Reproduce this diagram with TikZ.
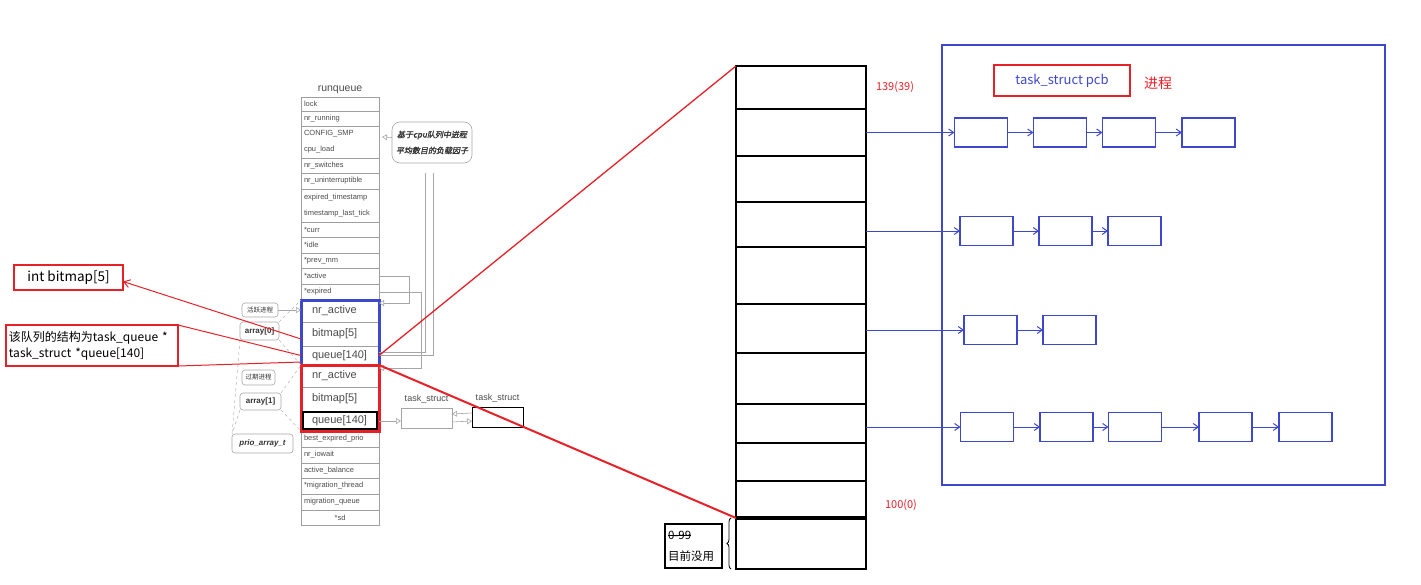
\documentclass[tikz,border=0pt]{standalone}
\usepackage{fontspec}
\setmainfont{Liberation Sans}
\newfontfamily\cjk{Noto Sans CJK SC}
\newfontfamily\cjkbi{Noto Sans CJK SC}[FakeSlant=0.2,FakeBold=1.5]
\usepackage{tikz}
\usetikzlibrary{arrows.meta,positioning,decorations.pathreplacing}

\definecolor{pcbblue}{RGB}{61,72,204}
\definecolor{markred}{RGB}{232,32,40}
\definecolor{tablegray}{RGB}{75,75,75}

\newsavebox\strikebox
\newcommand\strikeout[1]{\sbox\strikebox{#1}\rlap{\rule[0.32em]{\wd\strikebox}{0.7pt}}\usebox\strikebox}

\begin{document}
\begin{tikzpicture}[x=1pt, y=-1pt, every node/.style={inner sep=0pt, outer sep=0pt},
    cell/.style={draw=gray!75, line width=0.7pt, minimum width=78pt, text width=72pt,
                 align=left, text=tablegray, font=\fontsize{7.5}{16}\selectfont},
    field/.style={draw=gray!75, line width=0.6pt, minimum width=78pt, text width=56pt,
                  align=left, text=tablegray, font=\fontsize{11}{12}\selectfont},
    tagbox/.style={draw=gray!70, rounded corners=3pt, line width=0.6pt, text=black!80,
                   font=\fontsize{8}{10}\selectfont},
    slot/.style={draw=black, line width=2.5pt, minimum width=130pt},
    pcb/.style={draw=pcbblue, line width=1.6pt, minimum width=53pt, minimum height=29pt},
    notebox/.style={draw=markred, line width=1.5pt},
    wire/.style={draw=gray!70, line width=0.6pt},
    hollow/.style={wire, -{Triangle[open, length=5pt, width=6pt]}},
    guide/.style={draw=gray!60, dashed, line width=0.5pt},
    flow/.style={pcbblue, line width=1pt, -{Straight Barb[length=5pt, width=7pt]}},
    tsbox/.style={draw=gray!70, line width=0.6pt, minimum width=51pt, minimum height=20pt}]
  \useasboundingbox (0,0) rectangle (1421,584);

  % runqueue table
  \node[cell, minimum height=14pt] (lock) at (340,104) {lock};
  \node[font=\fontsize{10.5}{12}\selectfont, text=tablegray, above=3pt of lock] (rqtitle) {runqueue};
  \node[cell, minimum height=15pt, below=0pt of lock] (nrrun) {nr\_running};
  \node[cell, minimum height=32pt, below=0pt of nrrun] (smp) {CONFIG\_SMP\\cpu\_load};
  \node[cell, minimum height=15pt, below=0pt of smp] (nrsw) {nr\_switches};
  \node[cell, minimum height=16pt, below=0pt of nrsw] (nrunint) {nr\_uninterruptible};
  \node[cell, minimum height=33pt, below=0pt of nrunint] (exts) {expired\_timestamp\\timestamp\_last\_tick};
  \node[cell, minimum height=15pt, below=0pt of exts] (curr) {*curr};
  \node[cell, minimum height=16pt, below=0pt of curr] (idle) {*idle};
  \node[cell, minimum height=15pt, below=0pt of idle] (prevmm) {*prev\_mm};
  \node[cell, minimum height=16pt, below=0pt of prevmm] (actv) {*active};
  \node[cell, minimum height=16pt, below=0pt of actv] (expd) {*expired};
  \node[field, minimum height=22pt, below=0pt of expd] (nra0) {nr\_active};
  \node[field, minimum height=24pt, below=0pt of nra0] (bmp0) {bitmap[5]};
  \node[field, minimum height=19pt, below=0pt of bmp0] (que0) {queue[140]};
  \node[field, minimum height=22pt, below=0pt of que0] (nra1) {nr\_active};
  \node[field, minimum height=24pt, below=0pt of nra1] (bmp1) {bitmap[5]};
  \node[field, minimum height=20pt, below=0pt of bmp1] (que1) {queue[140]};
  \node[cell, minimum height=16pt, below=0pt of que1] (bexp) {best\_expired\_prio};
  \node[cell, minimum height=16pt, below=0pt of bexp] (iowait) {nr\_iowait};
  \node[cell, minimum height=15pt, below=0pt of iowait] (abal) {active\_balance};
  \node[cell, minimum height=16pt, below=0pt of abal] (mthr) {*migration\_thread};
  \node[cell, minimum height=16pt, below=0pt of mthr] (mq) {migration\_queue};
  \node[cell, minimum height=15pt, align=center, below=0pt of mq] (sd) {*sd};
  \draw[pcbblue, line width=3pt] (nra0.north west) rectangle (que0.south east);
  \draw[markred, line width=3pt] (nra1.north west) rectangle (que1.south east);
  \draw[line width=1.5pt] ([shift={(2pt,-1pt)}]que1.north west) rectangle ([shift={(-2pt,2pt)}]que1.south east);

  % cpu load bubble and pointers
  \node[tagbox, rounded corners=8pt, minimum width=80pt, minimum height=41pt, align=center,
        font=\cjkbi\fontsize{8}{16}\selectfont] (cpubub) at (432,142.5) {基于cpu队列中进程\\平均数目的负载因子};
  \draw[hollow] ([yshift=5pt]cpubub.west) -- ([xshift=3pt, yshift=5pt]smp.east);
  \draw[wire] ([xshift=-7pt, yshift=-10pt]cpubub.south) |- ([yshift=3pt]que0.east);
  \draw[wire] ([xshift=1pt, yshift=-10pt]cpubub.south) |- (que0.east);
  \draw[hollow] (actv.east) -- ++(30,0) |- ([yshift=-3pt]nra0.north east);
  \draw[hollow] (expd.east) -- ++(42,0) |- ([yshift=-3pt]nra1.north east);

  % prio_array tags
  \node[tagbox, minimum width=36pt, minimum height=14pt, font=\cjk\fontsize{6.5}{8}\selectfont] (activetag) at (260,310) {活跃进程};
  \node[tagbox, minimum width=39pt, minimum height=18pt, font=\bfseries\fontsize{8}{10}\selectfont] (arr0tag) at (259.5,331) {array[0]};
  \node[tagbox, minimum width=33pt, minimum height=15pt, font=\cjk\fontsize{6.5}{8}\selectfont] (expiredtag) at (258.5,377.5) {过期进程};
  \node[tagbox, minimum width=41pt, minimum height=17pt, font=\bfseries\fontsize{8}{10}\selectfont] (arr1tag) at (260.5,401.5) {array[1]};
  \node[tagbox, minimum width=61pt, minimum height=19pt, font=\bfseries\itshape\fontsize{8}{10}\selectfont] (priotag) at (262.5,443.5) {prio\_array\_t};
  \draw[hollow] (activetag.east) -- (nra0.west |- activetag.east);
  \draw[guide] (arr0tag.north east) -- (nra0.north west);
  \draw[guide] (arr0tag.south east) -- (que0.south west);
  \draw[guide] (arr1tag.north east) -- (nra1.north west);
  \draw[guide] (arr1tag.south east) -- (que1.south west);
  \draw[guide] (arr0tag.south west) -- (priotag.north west);
  \draw[guide] (arr1tag.south west) -- (priotag.north west);

  % task_struct list
  \node[tsbox] (ts1) at (426.5,418) {};
  \node[tsbox, draw=black, line width=1pt] (ts2) at (497.5,417) {};
  \node[font=\fontsize{9}{10}\selectfont, text=tablegray, above=5pt of ts1] (ts1label) {task\_struct};
  \node[font=\fontsize{9}{10}\selectfont, text=tablegray, above=5pt of ts2] (ts2label) {task\_struct};
  \draw[hollow] (que1.east) -- (ts1.west |- que1.east);
  \draw[hollow] ([yshift=4pt]ts2.west) -- ([yshift=4pt]ts1.east);
  \draw[hollow] ([yshift=-4pt]ts1.east) -- ([yshift=-4pt]ts2.west);

  % notes in red
  \node[notebox, minimum width=109pt, minimum height=25pt, font=\cjk\fontsize{13.5}{16}\selectfont] (bitmapnote) at (68.5,277.5) {int bitmap[5]};
  \node[notebox, minimum width=172pt, minimum height=41pt, text width=166pt, align=left,
        font=\cjk\fontsize{12}{16}\selectfont] (queuenote) at (92,345.5) {该队列的结构为task\_queue *\\task\_struct *queue[140]};
  \draw[markred, line width=1pt, -{Straight Barb[length=6pt, width=8pt]}] ([yshift=-5pt]bmp0.west) -- ([yshift=-4pt]bitmapnote.east);
  \draw[markred, line width=1pt] (queuenote.north east) -- (que0.west);
  \draw[markred, line width=1pt] (queuenote.south east) -- ([yshift=3pt]que0.south west);

  % priority queue column
  \foreach \i/\t/\b in {1/66/109, 2/109/156, 3/156/202, 4/202/247, 5/247/304, 6/304/353,
                        7/353/404, 8/404/443, 9/443/481, 10/481/518, 11/518/569}{
    \pgfmathsetmacro\slotmid{(\t+\b)/2}
    \pgfmathsetmacro\slotht{\b-\t}
    \node[slot, minimum height=\slotht pt] (q\i) at (801,\slotmid) {};
  }
  \draw[line width=4pt] (q11.north west) -- (q11.north east);
  \node[text=markred, font=\cjk\fontsize{11}{13}\selectfont] (toplabel) at (895,87) {139(39)};
  \node[text=markred, font=\cjk\fontsize{11}{13}\selectfont] (bottomlabel) at (901,505) {100(0)};
  \draw[markred, line width=1.3pt] (que0.east) -- (q1.north west);
  \draw[markred, line width=2pt] (nra1.north east) -- (q11.north west);
  \node[draw, line width=1.5pt, minimum width=57pt, minimum height=44pt, text width=51pt, align=left,
        font=\cjk\fontsize{11.5}{21}\selectfont] (unusednote) at (693.5,546) {\strikeout{0-99}\\目前没用};
  \draw[decorate, decoration={brace, amplitude=4pt}, line width=0.8pt]
    ([xshift=-5pt]q11.south west) -- ([xshift=-5pt]q11.north west);

  % process lists
  \node[draw=pcbblue, line width=1.8pt, minimum width=443pt, minimum height=440pt] (pcbarea) at (1163.5,265) {};
  \node[notebox, minimum width=136pt, minimum height=31pt, text=pcbblue, font=\cjk\fontsize{13}{15}\selectfont] (pcbtitle) at (1062,80.5) {task\_struct pcb};
  \node[text=markred, font=\cjk\fontsize{14}{16}\selectfont] (pcbnote) at (1158,83) {进程};
  \foreach \x [count=\k] in {981,1060,1129,1208.5} \node[pcb] (pa\k) at (\x,132.5) {};
  \foreach \x [count=\k] in {986.5,1065.5,1134.5} \node[pcb] (pb\k) at (\x,231) {};
  \foreach \x [count=\k] in {990.5,1069.5} \node[pcb] (pc\k) at (\x,330) {};
  \foreach \x [count=\k] in {987,1066.5,1135,1225.5,1305.5} \node[pcb] (pd\k) at (\x,427) {};
  \draw[flow] (q2.east |- pa1) -- (pa1);
  \draw[flow] (q4.east |- pb1) -- (pb1);
  \draw[flow] (q6.east |- pc1) -- (pc1);
  \draw[flow] (q8.east |- pd1) -- (pd1);
  \foreach \a/\b in {pa1/pa2, pa2/pa3, pa3/pa4, pb1/pb2, pb2/pb3, pc1/pc2,
                     pd1/pd2, pd2/pd3, pd3/pd4, pd4/pd5}
    \draw[flow] (\a) -- (\b);
\end{tikzpicture}
\end{document}
